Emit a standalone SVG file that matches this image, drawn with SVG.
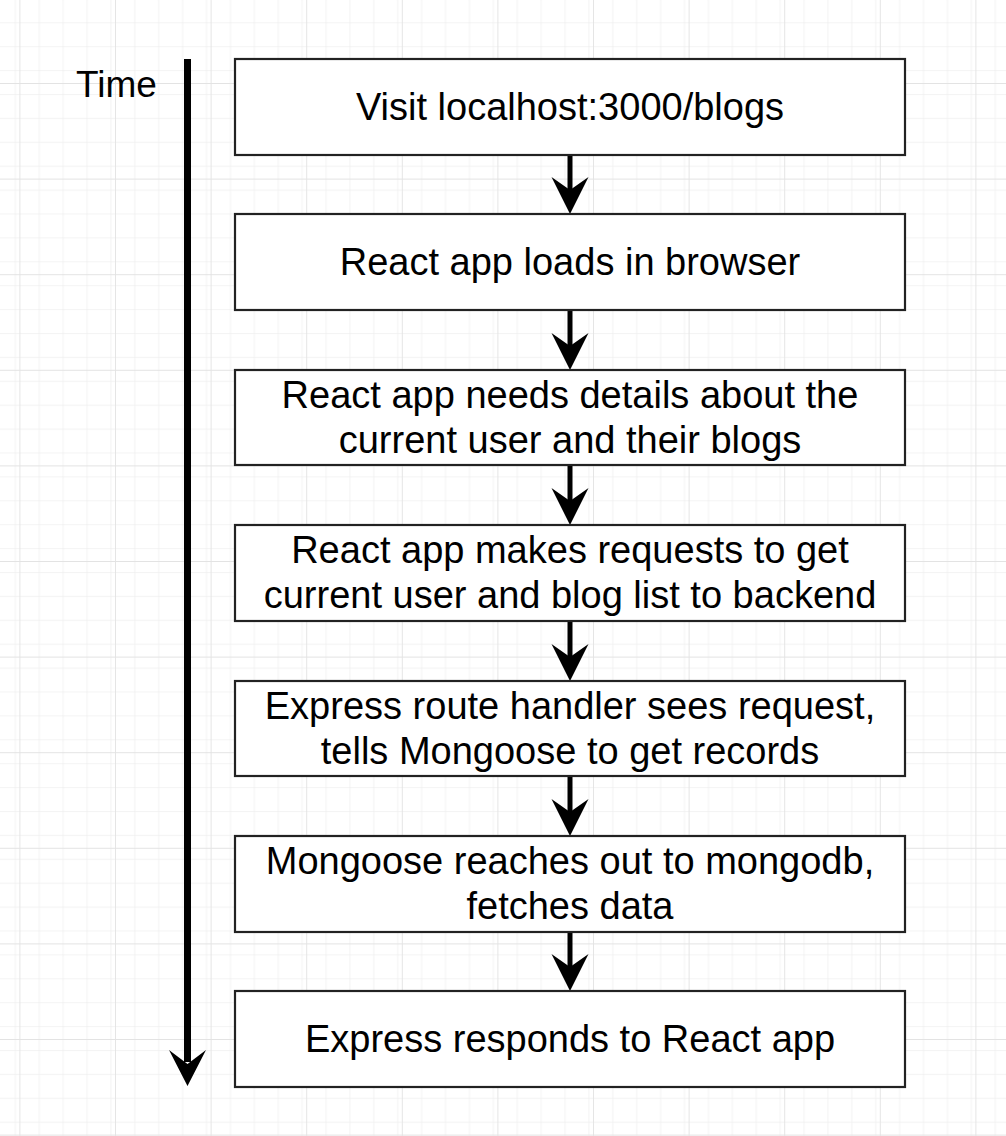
<svg xmlns="http://www.w3.org/2000/svg" width="1006" height="1136" viewBox="0 0 1006 1136">
  <style>
    .box { fill: #ffffff; stroke: #222222; stroke-width: 2.2; }
    .lbl { font-family: "Liberation Sans", Arial, Helvetica, sans-serif; font-size: 38px; fill: #000000; text-anchor: middle; }
    .stem { stroke: #000000; stroke-width: 5; fill: none; }
    .head { fill: #000000; stroke: none; }
  </style>
  <defs>
    <pattern id="minor" patternUnits="userSpaceOnUse" x="19.4" y="11" width="23.9" height="23.9">
      <path d="M 23.9 0 L 0 0 L 0 23.9" fill="none" stroke="#efefef" stroke-width="1.5"/>
    </pattern>
    <pattern id="major" patternUnits="userSpaceOnUse" x="19.4" y="-12.6" width="95.6" height="95.6">
      <rect width="95.6" height="95.6" fill="url(#minor)"/>
      <path d="M 95.6 0 L 0 0 L 0 95.6" fill="none" stroke="#e3e3e3" stroke-width="1.8"/>
    </pattern>
  </defs>
  <rect width="1006" height="1136" fill="#ffffff"/>
  <rect width="1006" height="1136" fill="url(#major)"/>

  <g id="time-axis">
    <text x="76" y="97" font-family="Liberation Sans, Arial, Helvetica, sans-serif" font-size="37" fill="#000000">Time</text>
    <line x1="187.5" y1="59" x2="187.5" y2="1062" stroke="#000000" stroke-width="7"/>
    <polygon class="head" points="187.5,1086 169,1050 187.5,1064 206,1050"/>
  </g>

  <g id="connectors">
    <line class="stem" x1="570" y1="155" x2="570" y2="192"/>
    <polygon class="head" points="570,214 551.5,177 570,190 588.5,177"/>
    <line class="stem" x1="570" y1="310" x2="570" y2="348"/>
    <polygon class="head" points="570,370 551.5,333 570,346 588.5,333"/>
    <line class="stem" x1="570" y1="465" x2="570" y2="503"/>
    <polygon class="head" points="570,525 551.5,488 570,501 588.5,488"/>
    <line class="stem" x1="570" y1="621" x2="570" y2="659"/>
    <polygon class="head" points="570,681 551.5,644 570,657 588.5,644"/>
    <line class="stem" x1="570" y1="776" x2="570" y2="814"/>
    <polygon class="head" points="570,836 551.5,799 570,812 588.5,799"/>
    <line class="stem" x1="570" y1="932" x2="570" y2="969"/>
    <polygon class="head" points="570,991 551.5,954 570,967 588.5,954"/>
  </g>

  <g id="node1">
    <rect class="box" x="235" y="59" width="670" height="96"/>
    <text class="lbl" x="570" y="120">Visit localhost:3000/blogs</text>
  </g>
  <g id="node2">
    <rect class="box" x="235" y="214" width="670" height="96"/>
    <text class="lbl" x="570" y="275">React app loads in browser</text>
  </g>
  <g id="node3">
    <rect class="box" x="235" y="370" width="670" height="95"/>
    <text class="lbl" x="570" y="408">React app needs details about the</text>
    <text class="lbl" x="570" y="453">current user and their blogs</text>
  </g>
  <g id="node4">
    <rect class="box" x="235" y="525" width="670" height="96"/>
    <text class="lbl" x="570" y="563">React app makes requests to get</text>
    <text class="lbl" x="570" y="608">current user and blog list to backend</text>
  </g>
  <g id="node5">
    <rect class="box" x="235" y="681" width="670" height="95"/>
    <text class="lbl" x="570" y="719">Express route handler sees request,</text>
    <text class="lbl" x="570" y="764">tells Mongoose to get records</text>
  </g>
  <g id="node6">
    <rect class="box" x="235" y="836" width="670" height="96"/>
    <text class="lbl" x="570" y="874">Mongoose reaches out to mongodb,</text>
    <text class="lbl" x="570" y="919">fetches data</text>
  </g>
  <g id="node7">
    <rect class="box" x="235" y="991" width="670" height="96"/>
    <text class="lbl" x="570" y="1052">Express responds to React app</text>
  </g>
</svg>
